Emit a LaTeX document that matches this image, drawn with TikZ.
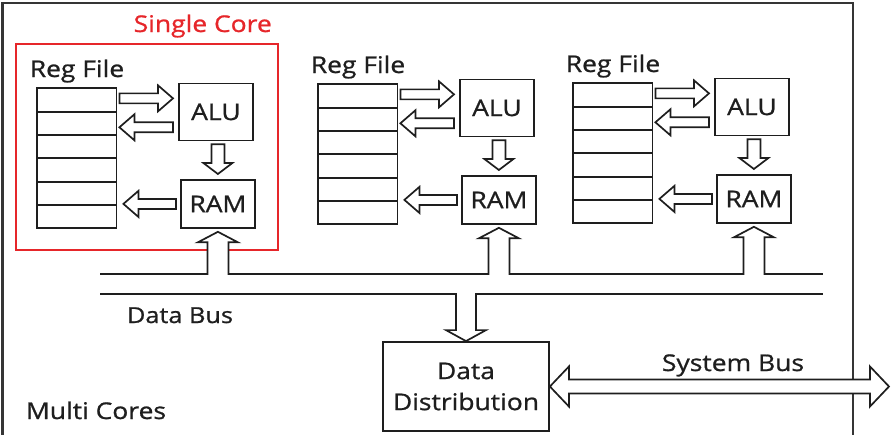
\documentclass[tikz,border=0pt]{standalone}
\usepackage{fontspec}
\setmainfont{Open Sans}[FakeStretch=1.15, FakeBold=0.9]
\usepackage{tikz}
\usetikzlibrary{
  calc,
  positioning
}
\definecolor{corered}{RGB}{230,38,42}
\definecolor{ink}{HTML}{1E1E1E}
% hollow block arrow: [closing] {style} {tail} {tip} {shaft half} {head half} {head length}
\newcommand{\blockarrow}[7][-- cycle]{%
  \filldraw[#2] let \p1=#3, \p2=#4,
    \n1={atan2(\y2-\y1,\x2-\x1)}, \n2={veclen(\x2-\x1,\y2-\y1)-#7} in
    ($(\p1)+(\n1-90:#5)$) -- ($(\p1)+(\n1:\n2)+(\n1-90:#5)$)
    -- ($(\p1)+(\n1:\n2)+(\n1-90:#6)$) -- (\p2)
    -- ($(\p1)+(\n1:\n2)+(\n1+90:#6)$) -- ($(\p1)+(\n1:\n2)+(\n1+90:#5)$)
    -- ($(\p1)+(\n1+90:#5)$) #1;}

\begin{document}
\begin{tikzpicture}[
  x=1pt, y=1pt,
  txt/.style={font=\fontsize{23}{31}\selectfont, text=ink, inner sep=0pt},
  regrow/.style={minimum width=79pt, minimum height=23.33pt,
                 anchor=north west, inner sep=0pt},
  sep/.style={draw=ink, line width=1.8pt},
  unit/.style={txt, draw=ink, line width=1.8pt, minimum width=74pt,
               minimum height=57pt, anchor=north west},
  barrow/.style={draw=ink, fill=white, line width=1.7pt, line join=miter},
  bus/.style={draw=ink, line width=1.8pt},
  frame/.style={draw=ink!90, line width=2.2pt},
]
  \useasboundingbox (0,0) rectangle (894,-434);

  % Multi core frame
  \draw[frame] (2.5,-440) -- (2.5,-3) -- (853,-3) -- (853,-440);
  \node[txt, anchor=base] (multi) at (96,-419) {Multi Cores};

  % Data bus
  \coordinate (busTL) at (100,-274);
  \coordinate (busTR) at (823,-274);
  \coordinate (busBL) at (100,-294);
  \coordinate (busBR) at (823,-294);
  \draw[bus] (busTL) -- (busTR);
  \draw[bus] (busBL) -- (busBR);
  \node[txt, anchor=base, font=\fontsize{22}{26}\selectfont] (databus) at (180,-323) {Data Bus};

  % Single core box
  \node[draw=corered, line width=1.6pt, minimum width=262pt, minimum height=206pt,
        anchor=north west, inner sep=0pt] (single) at (15,-43) {};
  \node[txt, text=corered, anchor=base east] (singlelbl) at (272,-32) {Single Core};

  % Cores
  \foreach \k/\px/\py in {1/37/88, 2/318/84, 3/573/83} {
    \foreach \r in {1,...,6} {
      \node[regrow] (rf\k-\r) at (\px, {-\py-(\r-1)*23.33}) {};
    }
    \draw[sep] (rf\k-1.north west) rectangle (rf\k-6.south east);
    \foreach \r in {1,...,5} {
      \draw[sep] (rf\k-\r.south west) -- (rf\k-\r.south east);
    }
    \node[txt, anchor=base] (reg\k) at ({\px+40}, {-\py+11}) {Reg File};
    \node[unit] (alu\k) at ({\px+141}, {-\py+5.5}) {ALU};
    \node[unit, minimum height=48pt] (ram\k) at ({\px+143}, {-\py-91}) {RAM};

    \blockarrow{barrow}{($(rf\k-1.east)+(3,1.5)$)}{($(alu\k.west |- rf\k-1.east)+(-5,1.5)$)}{5}{13}{15}
    \blockarrow{barrow}{($(alu\k.south west)+(-5,14)$)}{($(rf\k-1.east |- alu\k.south)+(3,14)$)}{5}{13}{15}
    \blockarrow{barrow}{($(ram\k.north |- alu\k.south)+(0,-3)$)}{($(ram\k.north)+(0,5)$)}{6.5}{14.5}{11}
    \blockarrow{barrow}{($(ram\k.west)+(-4,0)$)}{($(rf\k-1.east |- ram\k.west)+(7,0)$)}{5}{13}{15}
    \blockarrow[]{barrow}{($(ram\k.south |- busTL)+(0,-0.9)$)}{($(ram\k.south)+(0,-3)$)}{10.5}{20}{10.5}
  }

  % Data distribution
  \node[txt, draw=ink, line width=1.8pt, minimum width=166pt, minimum height=89pt,
        align=center] (dd) at (466,-386.5) {Data\\Distribution};
  \blockarrow[]{barrow}{($(dd.north |- busBL)+(0,0.9)$)}{(dd.north)}{10}{20}{11}

  % System bus
  \coordinate (sysR) at (889,-386.5);
  \filldraw[barrow] (dd.east) -- ++(19,20) -- ++(0,-13) -- ($(sysR)+(-19,7)$)
    -- ++(0,13) -- (sysR) -- ++(-19,-20) -- ++(0,13) -- ($(dd.east)+(19,-7)$)
    -- ++(0,-13) -- cycle;
  \node[txt, anchor=base] (sysbus) at (733,-371) {System Bus};

\end{tikzpicture}
\end{document}
